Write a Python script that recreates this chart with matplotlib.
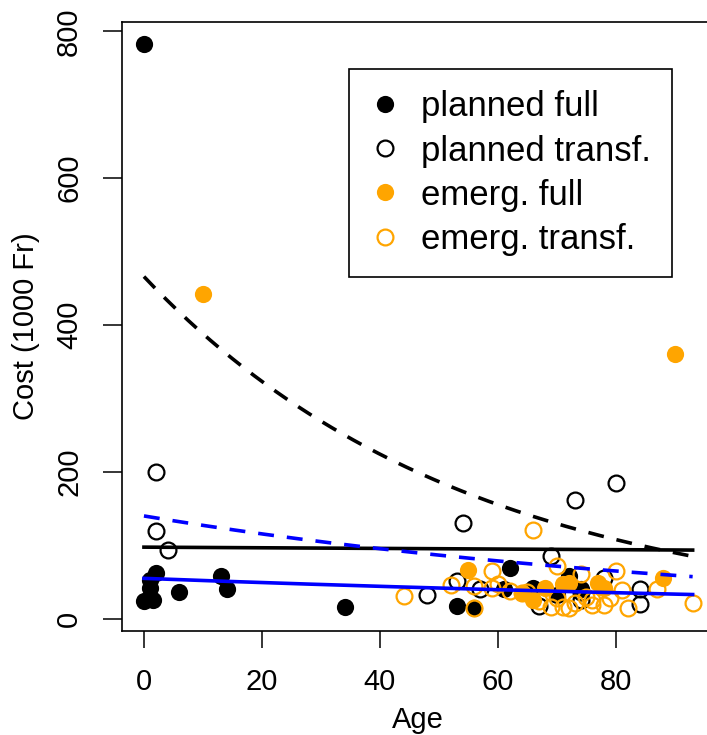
import numpy as np
import matplotlib
matplotlib.use("Agg")
import matplotlib.pyplot as plt

plt.rcParams['font.family'] = ['Liberation Sans', 'DejaVu Sans']

# planned admissions, full cost
pf_age  = [0, 0, 1, 1, 1.5, 2, 6, 13, 14, 34, 53, 56, 61, 62, 66, 72, 74, 70]
pf_cost = [783, 24, 42, 53, 26, 62, 37, 58, 40, 16, 17, 15, 40, 69, 42, 58, 40, 33]

# planned admissions, transferred
pt_age  = [2, 2, 4, 48, 53, 54, 57, 67, 69, 73, 74, 74, 78, 80, 84, 84]
pt_cost = [200, 120, 94, 33, 52, 131, 40, 17, 85, 162, 36, 26, 55, 185, 40, 20]

# emergency admissions, full cost
ef_age  = [10, 90, 55, 66, 68, 71, 72, 77, 78, 88, 64]
ef_cost = [442, 361, 67, 26, 42, 47, 49, 48, 42, 55, 35]

# emergency admissions, transferred
et_age  = [44, 52, 56, 59, 59, 64, 66, 70, 69, 74, 72, 67, 71, 76, 78, 76,
           80, 81, 82, 87, 93, 56, 62, 75, 65, 70, 79, 60, 73]
et_cost = [31, 46, 45, 65, 42, 35, 121, 72, 16, 61, 15, 24, 16, 19, 19, 26,
           65, 39, 14, 40, 21, 15, 38, 30, 36, 28, 28, 47, 22]

# fitted curves: cost = a * exp(b * age)
fit_pf = (466, -0.0183)
fit_pt = (97.5, -0.00045)
fit_ef = (140, -0.0096)
fit_et = (55, -0.0055)
age_max = 93

orange = '#FFA500'

fig = plt.figure(figsize=(7.07, 7.35), dpi=100)
ax = fig.add_axes([122/707, (735-631)/735, 592.6/707, 609/735])

ax.plot(pf_age, pf_cost, 'o', color='black', ms=12.4, mew=0, label='planned full')
ax.plot(pt_age, pt_cost, 'o', mfc='none', mec='black', ms=11.4, mew=1.6, label='planned transf.')
ax.plot(ef_age, ef_cost, 'o', color=orange, ms=12.4, mew=0, label='emerg. full')
ax.plot(et_age, et_cost, 'o', mfc='none', mec=orange, ms=11.4, mew=1.6, label='emerg. transf.')

grid = np.linspace(0, age_max, 200)
for (a, b), col, ls in [(fit_pf, 'black', (0, (4.4, 3.6))),
                        (fit_pt, 'black', '-'),
                        (fit_ef, 'blue', (0, (4.4, 3.6))),
                        (fit_et, 'blue', '-')]:
    ax.plot(grid, a * np.exp(b * grid), color=col, lw=2.6, ls=ls)

ax.set_xlim(-3.72, 96.72)
ax.set_ylim(-16.7, 812.7)
ax.set_xticks([0, 20, 40, 60, 80])
ax.set_yticks([0, 200, 400, 600, 800])
ax.tick_params(axis='both', direction='out', width=1.1, labelsize=21)
ax.tick_params(axis='x', length=12.5, pad=14)
ax.tick_params(axis='y', length=14, pad=14, labelrotation=90)
for lab in ax.get_yticklabels():
    lab.set_va('center')
for sp in ax.spines.values():
    sp.set_linewidth(1.2)

ax.set_xlabel('Age', fontsize=21, va='center')
ax.xaxis.set_label_coords(0.5, -0.146)
ax.set_ylabel('Cost (1000 Fr)', fontsize=21, va='center')
ax.yaxis.set_label_coords(-0.162, 0.5)

leg = ax.legend(loc='upper left', bbox_to_anchor=(0.383, 0.923), fontsize=25,
                frameon=True, fancybox=False, framealpha=1, edgecolor='black',
                borderpad=0.62, handlelength=0.86, handletextpad=0.59,
                labelspacing=0.32, borderaxespad=0)
leg.get_frame().set_linewidth(1.2)

fig.savefig('out.png', dpi=100)
